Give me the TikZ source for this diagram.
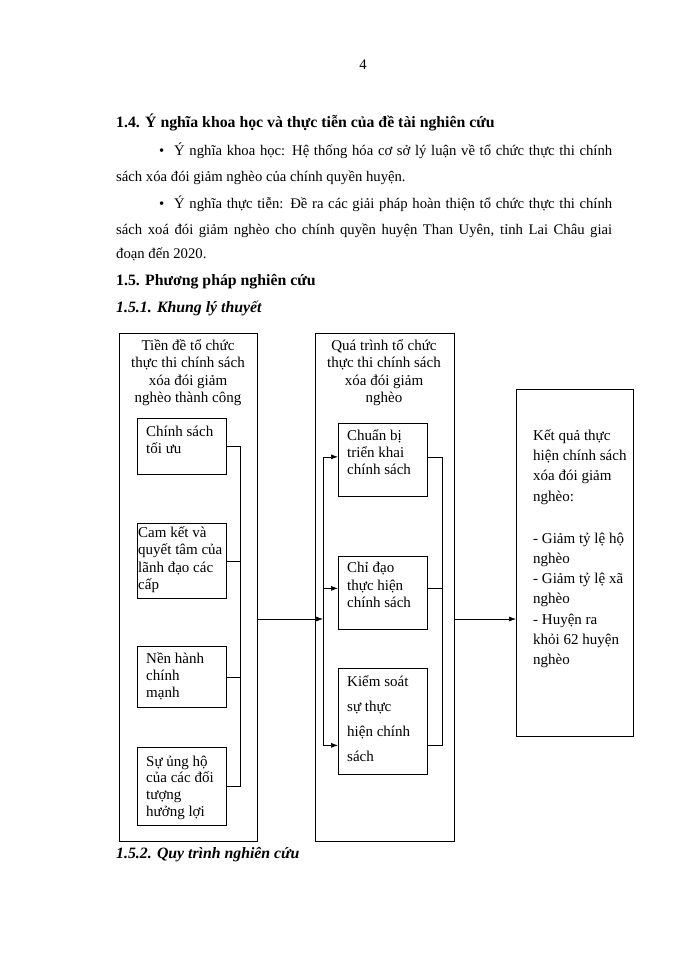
\documentclass[tikz,border=0pt]{standalone}
\usepackage{fontspec}
\setmainfont{Liberation Serif}
\usetikzlibrary{arrows.meta}

\tikzset{
  frame/.style={draw, line width=0.7pt, anchor=north west, inner sep=0pt},
  boxtext/.style={anchor=base west, align=left, inner sep=0pt, font=\fontsize{15}{17.5}\selectfont},
  headtext/.style={anchor=base, align=center, inner sep=0pt, font=\fontsize{15}{17.5}\selectfont},
  pagetext/.style={anchor=base west, inner sep=0pt, font=\fontsize{14.7}{18}\selectfont},
  headline/.style={anchor=base west, inner sep=0pt, font=\fontsize{15.8}{19}\selectfont\bfseries},
  link/.style={line width=0.7pt},
  flow/.style={line width=0.7pt, -{Latex[length=7pt,width=5pt]}},
}

\begin{document}
\begin{tikzpicture}[x=1pt, y=-1pt]
  \useasboundingbox (0,0) rectangle (700,960);
  \fill[white] (0,0) rectangle (700,960);

  % page text
  \node[pagetext, anchor=base] (pagenum) at (363,70) {4};
  \node[headline] (sec14) at (116,128) {1.4. Ý nghĩa khoa học và thực tiễn của đề tài nghiên cứu};
  \node[pagetext] (bulA) at (159,156) {\textbullet};
  \node[pagetext] (sciA) at (174,156) {\makebox[438pt][s]{Ý nghĩa khoa học: Hệ thống hóa cơ sở lý luận về tổ chức thực thi chính}};
  \node[pagetext] (sciB) at (116,182) {sách xóa đói giảm nghèo của chính quyền huyện.};
  \node[pagetext] (bulB) at (159,208) {\textbullet};
  \node[pagetext] (pracA) at (174,208) {\makebox[438pt][s]{Ý nghĩa thực tiễn: Đề ra các giải pháp hoàn thiện tổ chức thực thi chính}};
  \node[pagetext] (pracB) at (116,234) {\makebox[496pt][s]{sách xoá đói giảm nghèo cho chính quyền huyện Than Uyên, tỉnh Lai Châu giai}};
  \node[pagetext] (pracC) at (116,258) {đoạn đến 2020.};
  \node[headline] (sec15) at (116,285) {1.5. Phương pháp nghiên cứu};
  \node[headline, font=\fontsize{15.8}{19}\selectfont\bfseries\itshape] (sec151) at (116,312) {1.5.1. Khung lý thuyết};
  \node[headline, font=\fontsize{15.8}{19}\selectfont\bfseries\itshape] (sec152) at (116,858) {1.5.2. Quy trình nghiên cứu};

  % frames
  \node[frame, minimum width=138, minimum height=508] (premise) at (119,333) {};
  \node[frame, minimum width=139, minimum height=508] (process) at (315,333) {};
  \node[frame, minimum width=117, minimum height=347] (result) at (516,389) {};

  % multi-line texts sit on the baseline of their last line
  \node[headtext] (premisehd) at (188,402.5) {Tiền đề tổ chức\\thực thi chính sách\\xóa đói giảm\\nghèo thành công};
  \node[headtext] (processhd) at (384,402.5) {Quá trình tổ chức\\thực thi chính sách\\xóa đói giảm\\nghèo};

  % left column
  \node[frame, minimum width=89, minimum height=56] (opt) at (137,418) {};
  \node[frame, minimum width=89, minimum height=75] (comm) at (137,523) {};
  \node[frame, minimum width=89, minimum height=61] (admin) at (137,646) {};
  \node[frame, minimum width=89, minimum height=78] (supp) at (137,747) {};

  \node[boxtext] (opttx) at (146,453.5) {Chính sách\\tối ưu};
  \node[boxtext] (commtx) at (138,589.5) {Cam kết và\\quyết tâm của\\lãnh đạo các\\cấp};
  \node[boxtext, font=\fontsize{15}{17}\selectfont] (admintx) at (146,697.5) {Nền hành\\chính\\mạnh};
  \node[boxtext, font=\fontsize{15}{16.8}\selectfont] (supptx) at (146,816.5) {Sự ủng hộ\\của các đối\\tượng\\hưởng lợi};

  % middle column
  \node[frame, minimum width=89, minimum height=73] (prep) at (338,423) {};
  \node[frame, minimum width=89, minimum height=73] (guide) at (338,556) {};
  \node[frame, minimum width=89, minimum height=106] (ctrl) at (338,668) {};

  \node[boxtext, font=\fontsize{15}{16.8}\selectfont] (preptx) at (347,474.5) {Chuẩn bị\\triển khai\\chính sách};
  \node[boxtext] (guidetx) at (347,607.5) {Chỉ đạo\\thực hiện\\chính sách};
  \node[boxtext, font=\fontsize{15}{25}\selectfont] (ctrltx) at (347,761.5) {Kiểm soát\\sự thực\\hiện chính\\sách};

  \node[boxtext, font=\fontsize{15}{20.2}\selectfont] (resulttx) at (533,664.5) {Kết quả thực\\hiện chính sách\\xóa đói giảm\\nghèo:\\[22pt]- Giảm tỷ lệ hộ\\nghèo\\- Giảm tỷ lệ xã\\nghèo\\- Huyện ra\\khỏi 62 huyện\\nghèo};

  % connectors
  \coordinate (lbus) at (240,0);
  \coordinate (mbus) at (323,0);
  \coordinate (rbus) at (442,0);
  \coordinate (flowy) at (0,619);

  \draw[link] (opt.east) -- (opt.east -| lbus) -- (supp.east -| lbus) -- (supp.east);
  \draw[link] (comm.east) -- (comm.east -| lbus);
  \draw[link] (admin.east) -- (admin.east -| lbus);
  \draw[flow] (premise.east |- flowy) -- (mbus |- flowy);

  \coordinate (prepin) at ([yshift=3pt]prep.west);
  \coordinate (guidein) at ([yshift=4.5pt]guide.west);
  \coordinate (ctrlin) at ([yshift=-24pt]ctrl.west);
  \coordinate (prepout) at ([yshift=3pt]prep.east);
  \coordinate (guideout) at ([yshift=4.5pt]guide.east);
  \coordinate (ctrlout) at ([yshift=-24pt]ctrl.east);

  \draw[link] (prepin -| mbus) -- (ctrlin -| mbus);
  \foreach \p in {prepin, guidein, ctrlin}
    \draw[flow] (\p -| mbus) -- (\p);

  \draw[link] (prepout) -- (prepout -| rbus) -- (ctrlout -| rbus) -- (ctrlout);
  \draw[link] (guideout) -- (guideout -| rbus);
  \draw[flow] (process.east |- flowy) -- (result.west |- flowy);
\end{tikzpicture}
\end{document}
